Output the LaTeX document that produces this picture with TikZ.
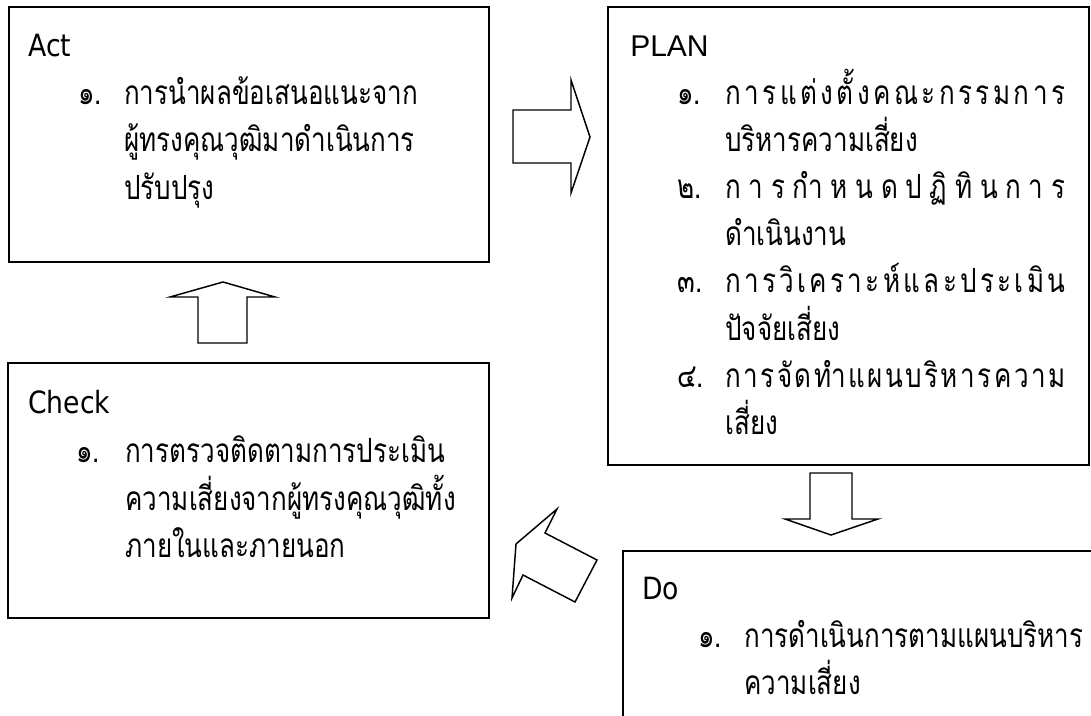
\documentclass[tikz,border=0pt]{standalone}
\usepackage{fontspec}
\usepackage{tikz}
\newfontfamily\thaifont[Script=Thai, FakeStretch=0.78]{Loma}
\newfontfamily\titlefont[FakeStretch=0.87]{DejaVu Sans}
\newfontfamily\planfont{Liberation Sans}
% one spread line of the PLAN box, clusters split by \tsep
\newcommand{\tsep}{\hfil}
\newcommand{\spreadline}[1]{\makebox[255pt][s]{#1}}

\begin{document}
\begin{tikzpicture}[x=0.75pt, y=-0.75pt,
  box/.style={draw, line width=1.5pt, outer sep=0pt, inner sep=0pt, anchor=north west},
  title/.style={anchor=base west, inner sep=0pt, font=\titlefont\fontsize{23}{26}\selectfont},
  item/.style={anchor=base west, inner sep=0pt, font=\thaifont\fontsize{25}{28}\selectfont},
  blockarrow/.style={draw, line width=1.1pt, line join=miter, fill=white}]
\clip (0,0) rectangle (1091,716);

% the four boxes
\node[box, minimum width=360pt, minimum height=191.25pt] (act) at (9,7) {};
\node[box, minimum width=360.75pt, minimum height=343.5pt] (plan) at (608,7) {};
\node[box, minimum width=360.75pt, minimum height=191.25pt] (check) at (8,363) {};
\node[box, minimum width=360.75pt, minimum height=191.25pt] (do) at (623,551) {};

% Act
\node[title] (acttitle) at (28,57) {Act};
\node[item] (actnum) at (78,105) {๑.};
\node[item] (acta) at (124,105) {การนำผลข้อเสนอแนะจาก};
\node[item] (actb) at (124,152) {ผู้ทรงคุณวุฒิมาดำเนินการ};
\node[item] (actc) at (124,200) {ปรับปรุง};

% PLAN
\node[title, font=\planfont\fontsize{22.5}{26}\selectfont] (plantitle) at (630,57) {PLAN};
\node[item] (plannuma) at (677,105) {๑.};
\node[item] (plana) at (725,105) {\spreadline{ก\tsep า\tsep ร\tsep แ\tsep ต่\tsep ง\tsep ตั้\tsep ง\tsep ค\tsep ณ\tsep ะ\tsep ก\tsep ร\tsep ร\tsep ม\tsep ก\tsep า\tsep ร}};
\node[item] (planb) at (725,152) {บริหารความเสี่ยง};
\node[item] (plannumb) at (677,199) {๒.};
\node[item] (planc) at (725,199) {\spreadline{ก\tsep า\tsep ร\tsep กำ\tsep ห\tsep น\tsep ด\tsep ป\tsep ฏิ\tsep ทิ\tsep น\tsep ก\tsep า\tsep ร}};
\node[item] (pland) at (725,246) {ดำเนินงาน};
\node[item] (plannumc) at (677,293) {๓.};
\node[item] (plane) at (725,293) {\spreadline{ก\tsep า\tsep ร\tsep วิ\tsep เ\tsep ค\tsep ร\tsep า\tsep ะ\tsep ห์\tsep แ\tsep ล\tsep ะ\tsep ป\tsep ร\tsep ะ\tsep เ\tsep มิ\tsep น}};
\node[item] (planf) at (725,340) {ปัจจัยเสี่ยง};
\node[item] (plannumd) at (677,387) {๔.};
\node[item] (plang) at (725,387) {\spreadline{ก\tsep า\tsep ร\tsep จั\tsep ด\tsep ทำ\tsep แ\tsep ผ\tsep น\tsep บ\tsep ริ\tsep ห\tsep า\tsep ร\tsep ค\tsep ว\tsep า\tsep ม}};
\node[item] (planh) at (725,434) {เสี่ยง};

% Check
\node[title] (checktitle) at (28,413) {Check};
\node[item] (checknum) at (76,462) {๑.};
\node[item] (checka) at (125,462) {การตรวจติดตามการประเมิน};
\node[item] (checkb) at (125,510) {ความเสี่ยงจากผู้ทรงคุณวุฒิทั้ง};
\node[item] (checkc) at (125,557) {ภายในและภายนอก};

% Do
\node[title] (dotitle) at (642,599) {Do};
\node[item] (donum) at (698,647) {๑.};
\node[item] (doa) at (744,647) {การดำเนินการตามแผนบริหาร};
\node[item] (dob) at (744,694) {ความเสี่ยง};

% block arrows between the boxes
\draw[blockarrow] (513,110) -- (571,110) -- (571,80) -- (590,137) -- (571,193) -- (571,163) -- (513,163) -- cycle;
\draw[blockarrow] (810,473) -- (852,473) -- (852,519) -- (878,519) -- (831,535) -- (785,519) -- (810,519) -- cycle;
\draw[blockarrow] (557,509) -- (545,533) -- (597,560) -- (575,602) -- (523,575) -- (512,598) -- (516,544) -- cycle;
\draw[blockarrow] (198,343) -- (198,297) -- (170,297) -- (223,282) -- (275,297) -- (247,297) -- (247,343) -- cycle;
\end{tikzpicture}
\end{document}
